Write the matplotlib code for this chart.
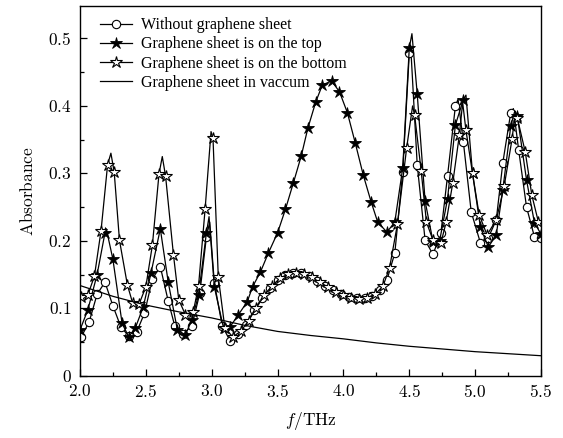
import numpy as np
import matplotlib
matplotlib.use("Agg")
import matplotlib.pyplot as plt
from matplotlib.ticker import MultipleLocator, FuncFormatter

plt.rcParams['mathtext.fontset'] = 'cm'
plt.rcParams['font.family'] = ['Liberation Serif', 'DejaVu Serif']

# absorbance spectra, sampled points (THz, absorbance)
circ_x = [2.01, 2.07, 2.13, 2.19, 2.25, 2.31, 2.37, 2.43, 2.49, 2.55, 2.61, 2.67, 2.72, 2.78,
          2.85, 2.91, 2.96, 3.02, 3.08, 3.14, 3.20, 3.26, 3.32, 3.38, 3.44, 3.50, 3.56, 3.62,
          3.68, 3.74, 3.80, 3.86, 3.92, 3.98, 4.04, 4.10, 4.16, 4.22, 4.28, 4.33, 4.39, 4.45,
          4.50, 4.56, 4.62, 4.68, 4.74, 4.79, 4.85, 4.91, 4.97, 5.04, 5.10, 5.16, 5.21, 5.27,
          5.33, 5.39, 5.45, 5.50]
circ_y = [0.058, 0.080, 0.121, 0.139, 0.104, 0.073, 0.059, 0.065, 0.093, 0.144, 0.162, 0.111, 0.074, 0.062,
          0.074, 0.123, 0.206, 0.138, 0.074, 0.052, 0.062, 0.076, 0.097, 0.115, 0.130, 0.142, 0.149, 0.152,
          0.152, 0.148, 0.141, 0.134, 0.127, 0.121, 0.117, 0.115, 0.115, 0.118, 0.128, 0.142, 0.182, 0.302,
          0.478, 0.313, 0.201, 0.180, 0.212, 0.296, 0.400, 0.347, 0.243, 0.197, 0.205, 0.231, 0.316, 0.390,
          0.335, 0.250, 0.206, 0.205]
circ_tip_x = [2.985, 4.51, 4.87, 5.29]
circ_tip_y = [0.228, 0.490, 0.410, 0.396]

top_x = [2.00, 2.06, 2.13, 2.19, 2.25, 2.32, 2.37, 2.42, 2.48, 2.54, 2.61, 2.67, 2.74, 2.80,
         2.85, 2.90, 2.96, 3.02, 3.09, 3.14, 3.20, 3.27, 3.31, 3.37, 3.43, 3.50, 3.56, 3.62,
         3.68, 3.73, 3.79, 3.84, 3.91, 3.97, 4.03, 4.09, 4.15, 4.21, 4.26, 4.33, 4.39, 4.45,
         4.50, 4.56, 4.62, 4.68, 4.73, 4.79, 4.85, 4.91, 4.98, 5.04, 5.10, 5.16, 5.21, 5.27,
         5.32, 5.39, 5.45, 5.50]
top_y = [0.068, 0.098, 0.150, 0.212, 0.173, 0.078, 0.058, 0.071, 0.102, 0.153, 0.218, 0.139, 0.068, 0.061,
         0.083, 0.120, 0.212, 0.132, 0.071, 0.073, 0.090, 0.110, 0.132, 0.154, 0.182, 0.212, 0.247, 0.286,
         0.326, 0.367, 0.406, 0.431, 0.437, 0.421, 0.390, 0.345, 0.298, 0.258, 0.228, 0.213, 0.228, 0.308,
         0.486, 0.418, 0.259, 0.199, 0.200, 0.262, 0.372, 0.409, 0.300, 0.220, 0.191, 0.209, 0.276, 0.370,
         0.385, 0.290, 0.227, 0.210]
top_tip_x = [2.20, 2.98, 4.52, 4.93, 5.30]
top_tip_y = [0.218, 0.236, 0.507, 0.416, 0.392]

bot_x = [2.01, 2.06, 2.11, 2.16, 2.21, 2.26, 2.30, 2.36, 2.40, 2.45, 2.50, 2.55, 2.60, 2.65,
         2.71, 2.75, 2.80, 2.86, 2.90, 2.95, 3.01, 3.05, 3.10, 3.16, 3.22, 3.28, 3.34, 3.40,
         3.46, 3.52, 3.58, 3.64, 3.70, 3.76, 3.82, 3.88, 3.94, 4.00, 4.06, 4.12, 4.18, 4.24,
         4.30, 4.35, 4.41, 4.48, 4.54, 4.59, 4.63, 4.68, 4.74, 4.78, 4.83, 4.88, 4.93, 4.98,
         5.03, 5.09, 5.16, 5.22, 5.28, 5.32, 5.38, 5.43, 5.48]
bot_y = [0.117, 0.120, 0.148, 0.215, 0.313, 0.302, 0.201, 0.135, 0.108, 0.107, 0.132, 0.194, 0.299, 0.296,
         0.179, 0.113, 0.091, 0.095, 0.133, 0.247, 0.352, 0.147, 0.071, 0.058, 0.066, 0.082, 0.101, 0.120,
         0.134, 0.145, 0.151, 0.153, 0.151, 0.146, 0.139, 0.132, 0.125, 0.120, 0.116, 0.114, 0.116, 0.121,
         0.133, 0.160, 0.225, 0.338, 0.387, 0.304, 0.228, 0.201, 0.197, 0.228, 0.286, 0.357, 0.364, 0.300,
         0.239, 0.209, 0.231, 0.281, 0.351, 0.382, 0.332, 0.268, 0.228]
bot_tip_x = [2.235, 2.625, 2.995, 4.525, 4.905, 5.305]
bot_tip_y = [0.330, 0.325, 0.362, 0.400, 0.405, 0.392]

vac_x = [2.0, 2.25, 2.5, 2.75, 3.0, 3.25, 3.5, 3.75, 4.0, 4.25, 4.5, 4.75, 5.0, 5.25, 5.5]
vac_y = [0.134, 0.118, 0.105, 0.095, 0.086, 0.075, 0.066, 0.060, 0.055, 0.049, 0.044, 0.040, 0.036, 0.033, 0.030]


def with_tips(x, y, tx, ty):
    # merge sampled points with curve maxima; markers only on sampled points
    ax_ = np.concatenate([x, tx])
    ay_ = np.concatenate([y, ty])
    mark = np.concatenate([np.ones(len(x), bool), np.zeros(len(tx), bool)])
    order = np.argsort(ax_)
    return ax_[order], ay_[order], mark[order]


fig = plt.figure(figsize=(5.63, 4.38), dpi=100)
ax = fig.add_axes([0.142, 0.1416, 0.819, 0.8447])

lw = 0.9
cx, cy, cm = with_tips(circ_x, circ_y, circ_tip_x, circ_tip_y)
ax.plot(cx, cy, color='black', lw=lw, marker='o', ms=6, mfc='white', mec='black', mew=0.8,
        markevery=list(cm), label='Without graphene sheet')
tx, ty, tm = with_tips(top_x, top_y, top_tip_x, top_tip_y)
ax.plot(tx, ty, color='black', lw=lw, marker='*', ms=9, mfc='black', mec='black', mew=0.6,
        markevery=list(tm), label='Graphene sheet is on the top')
bx, by, bm = with_tips(bot_x, bot_y, bot_tip_x, bot_tip_y)
ax.plot(bx, by, color='black', lw=lw, marker='*', ms=9, mfc='white', mec='black', mew=0.8,
        markevery=list(bm), label='Graphene sheet is on the bottom')
ax.plot(vac_x, vac_y, color='black', lw=lw, label='Graphene sheet in vaccum')

ax.set_xlim(2.0, 5.5)
ax.set_ylim(0, 0.548)
ax.xaxis.set_major_locator(MultipleLocator(0.5))
ax.xaxis.set_minor_locator(MultipleLocator(0.25))
ax.yaxis.set_major_locator(MultipleLocator(0.1))
ax.yaxis.set_minor_locator(MultipleLocator(0.05))
ax.xaxis.set_major_formatter(FuncFormatter(lambda v, p: f'${v:.1f}$'))
ax.yaxis.set_major_formatter(FuncFormatter(lambda v, p: '$0$' if abs(v) < 1e-9 else f'${v:.1f}$'))
ax.tick_params(which='both', direction='in', labelsize=12.5, width=0.9)
ax.tick_params(which='major', length=5, pad=6)
ax.tick_params(which='minor', length=3)
for s in ax.spines.values():
    s.set_linewidth(1.0)

ax.set_xlabel(r'$f/\mathrm{THz}$', fontsize=12.5, labelpad=6)
ax.set_ylabel(r'$\mathrm{Absorbance}$', fontsize=12.5, labelpad=8)

ax.legend(loc='upper left', frameon=False, fontsize=11.5, handlelength=2.0,
          handletextpad=0.55, labelspacing=0.2, borderaxespad=0.3, bbox_to_anchor=(0.02, 1.0))

fig.savefig('out.png', dpi=100)
